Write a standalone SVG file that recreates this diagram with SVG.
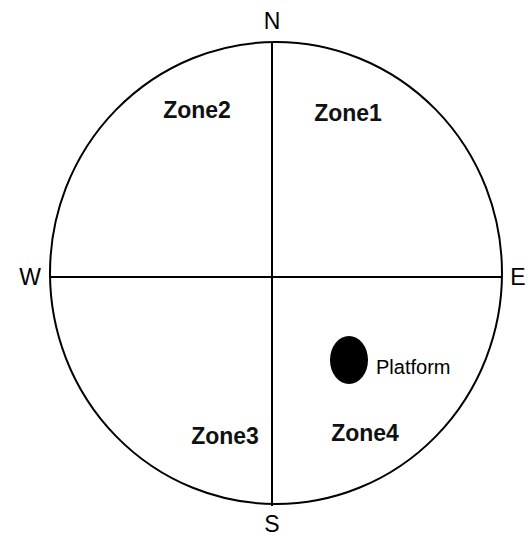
<svg xmlns="http://www.w3.org/2000/svg" width="531" height="539" viewBox="0 0 531 539">
<style>
.ln{stroke:#000;stroke-width:2;fill:none}
.lbl{font-family:"Liberation Sans",Arial,sans-serif;font-size:23px;fill:#000}
.zone{font-family:"Liberation Sans",Arial,sans-serif;font-size:23px;font-weight:bold;fill:#111}
.pf{font-family:"Liberation Sans",Arial,sans-serif;font-size:20px;fill:#000}
</style>
<rect width="531" height="539" fill="#fff"/>
<g id="arena">
<ellipse class="ln" cx="276" cy="273" rx="226" ry="231"/>
</g>
<g id="connectors">
<line class="ln" x1="272" y1="42" x2="272" y2="506"/>
<line class="ln" x1="50" y1="277" x2="502" y2="277"/>
</g>
<g id="N"><text class="lbl" x="272" y="29" text-anchor="middle">N</text></g>
<g id="S"><text class="lbl" x="272" y="532" text-anchor="middle">S</text></g>
<g id="W"><text class="lbl" x="30" y="285" text-anchor="middle">W</text></g>
<g id="E"><text class="lbl" x="518" y="285" text-anchor="middle">E</text></g>
<g id="zone1"><text class="zone" x="348" y="121" text-anchor="middle">Zone1</text></g>
<g id="zone2"><text class="zone" x="197" y="118" text-anchor="middle">Zone2</text></g>
<g id="zone3"><text class="zone" x="225" y="444" text-anchor="middle">Zone3</text></g>
<g id="zone4"><text class="zone" x="365" y="441" text-anchor="middle">Zone4</text></g>
<g id="platform">
<ellipse cx="349" cy="360" rx="19" ry="24" fill="#000"/>
<text class="pf" x="376" y="374">Platform</text>
</g>
</svg>
